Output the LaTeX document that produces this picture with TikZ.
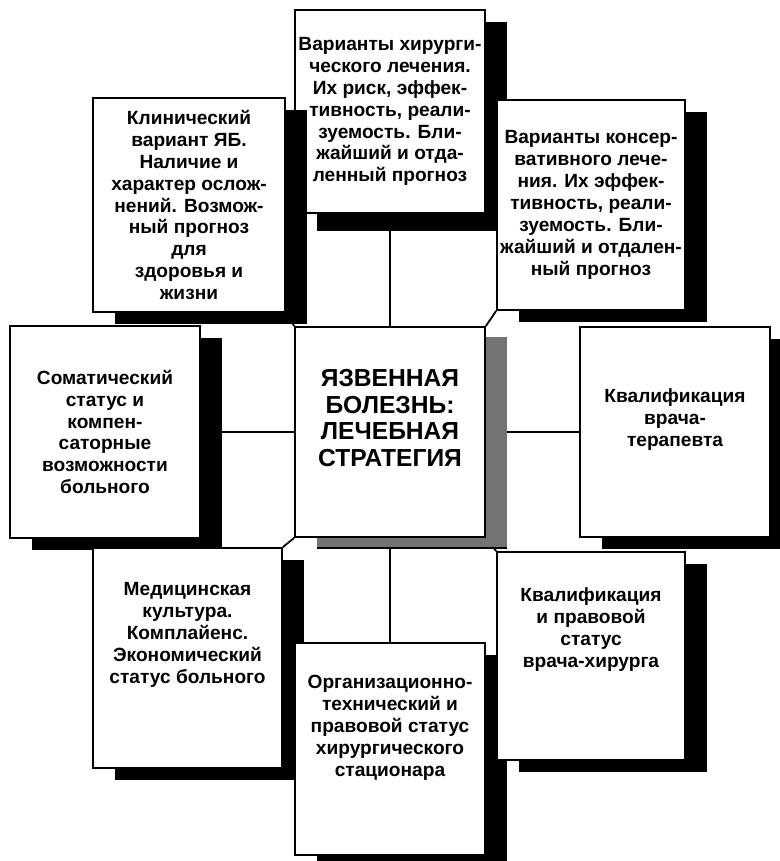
\documentclass[tikz,border=0pt]{standalone}
\usepackage{fontspec}
\setmainfont{Liberation Sans}
\usepackage{tikz}
\usetikzlibrary{shadows,backgrounds}

\begin{document}
\begin{tikzpicture}[x=0.025cm, y=-0.025cm,
        card/.style={draw, line width=0.45mm, fill=white, inner sep=0pt, align=center,
            font=\bfseries\fontsize{13.6}{15.6}\selectfont,
            drop shadow={shadow xshift=0.55cm, shadow yshift=-0.3cm, fill=black, opacity=1}},
        size/.style 2 args={minimum width=#1*0.025cm, minimum height=#2*0.025cm},
        lift/.style={text depth=#1},
        link/.style={line width=0.45mm}]
        \useasboundingbox (0, 0) rectangle (779, 861);

        \node[card, size={190}{203}, drop shadow={shadow xshift=0.55cm, shadow yshift=-0.45cm, fill=black, opacity=1}] (surg) at (390, 111.5) {Варианты хирурги-\\ческого лечения.\\Их риск, эффек-\\тивность, реали-\\зуемость. Бли-\\жайший и отда-\\ленный прогноз};
        \node[card, size={192}{214}] (clin) at (189, 205) {Клинический\\вариант ЯБ.\\Наличие и\\характер ослож-\\нений. Возмож-\\ный прогноз\\для\\здоровья и\\жизни};
        \node[card, size={188}{210}] (cons) at (591, 205) {Варианты консер-\\вативного лече-\\ния. Их эффек-\\тивность, реали-\\зуемость. Бли-\\жайший и отдален-\\ный прогноз};

        \node[card, size={190}{212}] (soma) at (105, 432) {Соматический\\статус и\\компен-\\саторные\\возможности\\больного};
        \node[card, size={190}{210}, lift=20pt, font=\bfseries\fontsize{17.5}{19}\selectfont,
            drop shadow={shadow xshift=0.55cm, shadow yshift=-0.25cm, fill=black!55, opacity=1}] (main) at (390, 432) {ЯЗВЕННАЯ\\БОЛЕЗНЬ:\\ЛЕЧЕБНАЯ\\СТРАТЕГИЯ};
        \node[card, size={190}{210}, lift=20pt] (ther) at (675, 432) {Квалификация\\врача-\\терапевта};

        \node[card, size={189}{220}, lift=36pt] (medc) at (187.5, 658) {Медицинская\\культура.\\Комплайенс.\\Экономический\\статус больного};
        \node[card, size={190}{212}, lift=33pt] (stat) at (390, 749) {Организационно-\\технический и\\правовой статус\\хирургического\\стационара};
        \node[card, size={188}{208}, lift=40pt] (surq) at (591, 656) {Квалификация\\и правовой\\статус\\врача-хирурга};

        \begin{scope}[on background layer]
            \draw[link] (surg.south) -- (main.north);
            \draw[link] (soma.east) -- (main.west);
            \draw[link] (main.east) -- (ther.west);
            \draw[link] (main.south) -- (stat.north);

            \draw[link] (main.north west) -- (clin.south east);
            \draw[link] (main.north east) -- (cons.south west);
            \draw[link] (main.south west) -- (medc.north east);
            \draw[link] (main.south east) -- (surq.north west);
        \end{scope}
    \end{tikzpicture}
\end{document}
